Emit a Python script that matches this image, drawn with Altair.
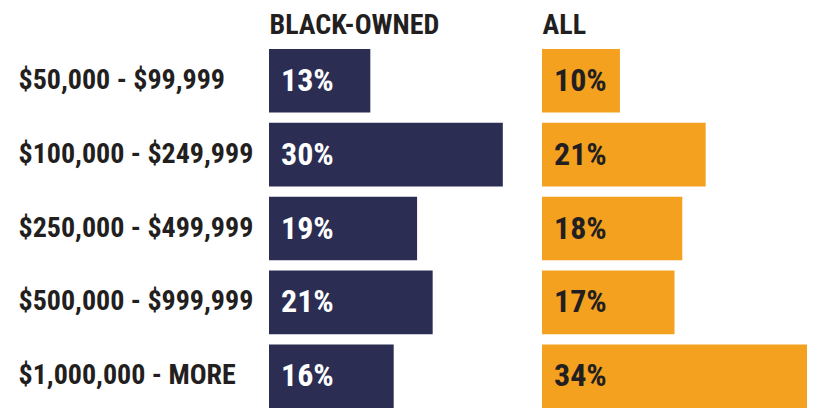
import altair as alt
import pandas as pd

categories = ["$50,000 - $99,999", "$100,000 - $249,999", "$250,000 - $499,999",
              "$500,000 - $999,999", "$1,000,000 - MORE"]
black_owned = [13, 30, 19, 21, 16]
all_firms = [10, 21, 18, 17, 34]
groups = ["BLACK-OWNED", "ALL"]

# layout: where the second column starts, in percentage-point units of the shared x scale
OFFSET = 35.03

df = pd.DataFrame({
    "cat": categories * 2,
    "group": [groups[0]] * len(categories) + [groups[1]] * len(categories),
    "value": black_owned + all_firms,
})

FONT = "Roboto Condensed"
DARK = "#231F20"
NAVY = "#2B2D52"
ORANGE = "#F3A11F"

x_axis = alt.Axis(orient="top", title=None, values=[0, OFFSET], domain=False, ticks=False,
                  tickSize=0, grid=False, labelExpr="datum.value == 0 ? 'BLACK-OWNED' : 'ALL'",
                  labelAlign="left", labelBaseline="alphabetic", labelPadding=16,
                  labelFont=FONT, labelFontSize=28, labelFontWeight="bold", labelColor=DARK,
                  labelFlush=False, labelOverlap=False, labelLimit=0)
x_scale = alt.Scale(domain=[0, OFFSET + 34], nice=False, zero=True)

y_axis = alt.Axis(title=None, domain=False, ticks=False, tickSize=0, grid=False,
                  labelAlign="left", labelPadding=251, labelFont=FONT,
                  labelFontSize=28, labelFontWeight="bold", labelColor=DARK,
                  labelLimit=0, labelBaseline="middle")
y_scale = alt.Scale(paddingInner=0.14, paddingOuter=0, round=False)

y = alt.Y("cat:N", sort=categories, scale=y_scale, axis=y_axis)
x = alt.X("start:Q", scale=x_scale, axis=x_axis)

base = alt.Chart(df).transform_calculate(
    start=f"datum.group == 'ALL' ? {OFFSET} : 0",
).transform_calculate(
    end="datum.start + datum.value",
    lbl="datum.value + '%'",
)

bars = base.mark_bar().encode(
    x=x, x2="end:Q", y=y,
    color=alt.condition(f"datum.group == '{groups[0]}'", alt.value(NAVY), alt.value(ORANGE)),
)
text = base.mark_text(align="left", baseline="middle", dx=12, font=FONT, fontSize=32,
                      fontWeight="bold").encode(
    x=x, y=y, text="lbl:N",
    color=alt.condition(f"datum.group == '{groups[0]}'", alt.value("#FFFFFF"), alt.value(DARK)),
)

chart = alt.layer(bars, text).properties(
    width=799, height=400,
    autosize=alt.AutoSizeParams(type="fit", contains="padding"),
    padding={"left": 10, "top": 3, "right": 0, "bottom": 0},
).configure_view(stroke=None)

chart.save("out.html", embed_options={"renderer": "svg", "actions": False})
